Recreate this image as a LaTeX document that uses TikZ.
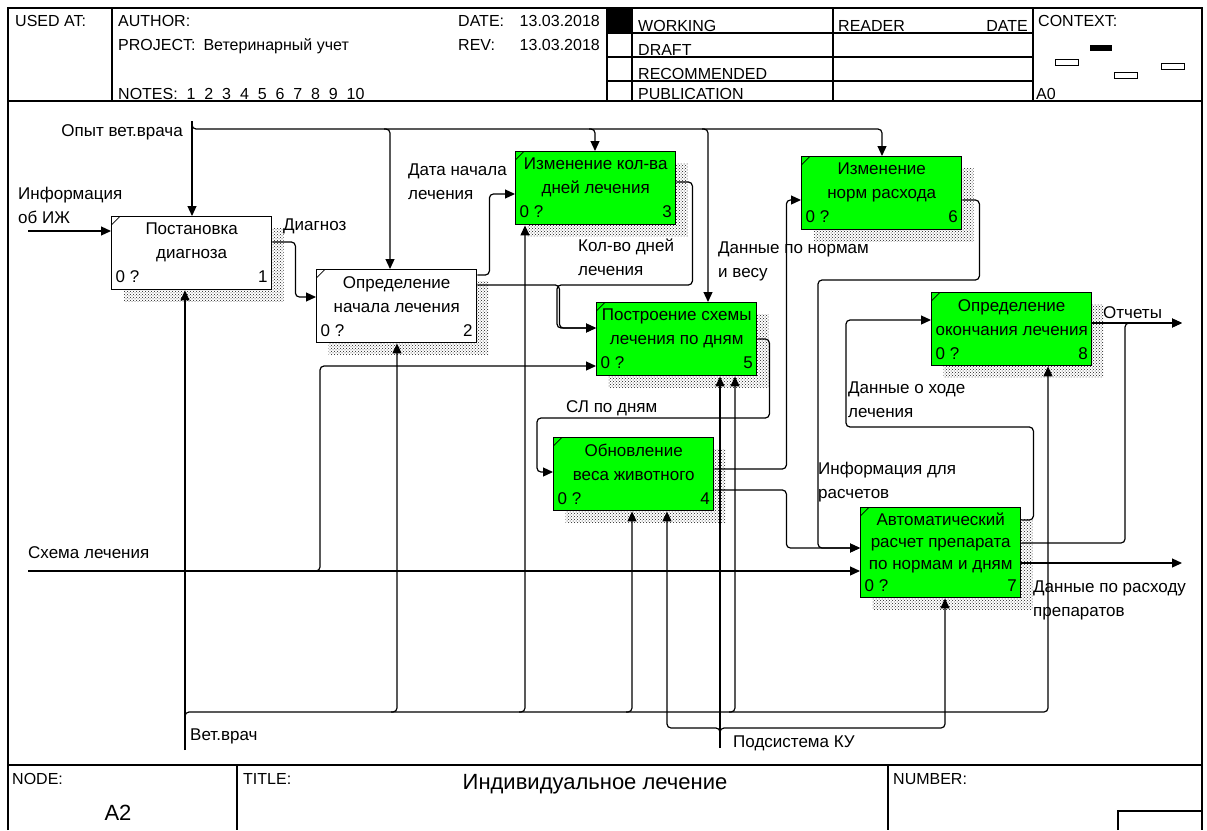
\documentclass[tikz,border=0pt]{standalone}
\usepackage{fontspec}
\setmainfont{Liberation Sans}
\usepackage{tikz}
\usetikzlibrary{positioning, arrows.meta, patterns}

\definecolor{idefgreen}{RGB}{0,255,0}
\newcommand{\boxid}[1]{\makebox[152pt]{0 ?\hfill #1}}

\begin{document}
\begin{tikzpicture}[
    x=1pt, y=-1pt,
    activity/.style={rectangle, draw, line width=1.4pt, fill=white, anchor=north west, minimum width=160pt, minimum height=73pt, inner sep=0pt, align=center, font=\fontsize{17}{24}\selectfont,
        preaction={draw=none, pattern=crosshatch dots, pattern color=black!90, transform canvas={shift={(12pt,-12pt)}}},
        path picture={\draw[line width=0.7pt] ([yshift=-8pt]path picture bounding box.north west) -- ([xshift=8pt]path picture bounding box.north west);}},
    done/.style={activity, fill=idefgreen},
    lbl/.style={anchor=north west, align=left, inner sep=0pt, font=\fontsize{17}{24}\selectfont},
    head/.style={anchor=base west, inner sep=0pt, font=\fontsize{16}{19}\selectfont},
    frame/.style={line width=1.3pt},
    arrow/.style={->, >={Triangle[length=10pt, width=9pt]}, line width=1.2pt, rounded corners=4pt}
]
\useasboundingbox (0,0) rectangle (1207,830);

% Frame
\draw[frame] (8,830) -- (8,8) -- (1202,8) -- (1202,830);
\draw[frame] (8,101) -- (1202,101);
\draw[frame] (8,765) -- (1202,765);
\foreach \x in {112,607,632,833,1033}
    \draw[frame] (\x,8) -- (\x,101);
\foreach \y in {33,57,81}
    \draw[frame] (607,\y) -- (1033,\y);
\fill (607,8) rectangle (632,33);
\draw[frame] (237,765) -- (237,830);
\draw[frame] (888,765) -- (888,830);
\draw[frame] (1118,830) -- (1118,811) -- (1202,811);

% Context
\fill (1090,45) rectangle (1112,51);
\draw[line width=1pt] (1055,59) rectangle (1078,65);
\draw[line width=1pt] (1114,72) rectangle (1137,78);
\draw[line width=1pt] (1161,63) rectangle (1184,69);

% Header
\node[head] (usedat) at (15,26) {USED AT:};
\node[head] (author) at (118,26) {AUTHOR:};
\node[head] (project) at (118,50) {PROJECT:\hspace{8pt}Ветеринарный учет};
\node[head] (notes) at (118,99) {NOTES:~~1~~2~~3~~4~~5~~6~~7~~8~~9~~10};
\node[head] (datel) at (458,26) {DATE:};
\node[head, anchor=base east] (dater) at (600,26) {13.03.2018};
\node[head] (revl) at (458,50) {REV:};
\node[head, anchor=base east] (revr) at (600,50) {13.03.2018};
\node[head] (working) at (638,31) {WORKING};
\node[head] (draft) at (638,55) {DRAFT};
\node[head] (recom) at (638,79) {RECOMMENDED};
\node[head] (publ) at (638,99) {PUBLICATION};
\node[head] (reader) at (838,31) {READER};
\node[head, anchor=base east] (rdate) at (1028,31) {DATE};
\node[head] (context) at (1038,26) {CONTEXT:};
\node[head] (azero) at (1036,99) {A0};

% Footer
\node[head] (nodel) at (12,784) {NODE:};
\node[font=\fontsize{22}{26}\selectfont] (nodenum) at (118,813) {A2};
\node[head] (titlel) at (243,784) {TITLE:};
\node[font=\fontsize{22}{26}\selectfont] (title) at (595,784) {Индивидуальное лечение};
\node[head] (numl) at (893,784) {NUMBER:};

% Activities
\node[activity] (b1) at (111,216) {Постановка\\диагноза\\\boxid{1}};
\node[activity] (b2) at (316,269) {Определение\\начала лечения\\\boxid{2}};
\node[done] (b3) at (515,151) {Изменение кол-ва\\дней лечения\\\boxid{3}};
\node[done] (b4) at (553,437) {Обновление\\веса животного\\\boxid{4}};
\node[done] (b5) at (596,302) {Построение схемы\\лечения по дням\\\boxid{5}};
\node[done] (b6) at (801,156) {Изменение\\норм расхода\\\boxid{6}};
\node[done, minimum height=90pt, font=\fontsize{17}{22}\selectfont] (b7) at (860,507) {Автоматический\\расчет препарата\\по нормам и дням\\\boxid{7}};
\node[done] (b8) at (931,292) {Определение\\окончания лечения\\\boxid{8}};

% Border ends
\coordinate (opyt) at (192,121);
\coordinate (opbus) at (0,129);
\coordinate (info) at (28,231);
\coordinate (shema) at (28,571);
\coordinate (vet) at (185,750);
\coordinate (vbus) at (0,712);
\coordinate (podsys) at (720,748);
\coordinate (pbus) at (0,728);
\coordinate (otch) at (1182,323);
\coordinate (rashod) at (1182,563);

% Controls
\draw[arrow] (opyt) -- ([xshift=81pt]b1.north west);
\draw[arrow] (opyt) |- ++(8,8) -| ([xshift=81pt]b6.north west);
\draw[arrow] ([xshift=68pt]b2.north west |- opbus) -| ([xshift=74pt]b2.north west);
\draw[arrow] ([xshift=74pt]b3.north west |- opbus) -| ([xshift=80pt]b3.north west);
\draw[arrow] ([xshift=106pt]b5.north west |- opbus) -| ([xshift=112pt]b5.north west);

% Inputs
\draw[arrow] (info) -- ([yshift=-15pt]b1.north west);
\draw[arrow] ([yshift=-26pt]b1.north east) -- ++(23,0) |- ([yshift=-28pt]b2.north west);
\draw[arrow] ([yshift=-6pt]b2.north east) -- ++(12,0) |- ([yshift=-43pt]b3.north west);
\draw[arrow] ([yshift=-16pt]b2.north east) -- ++(82,0) |- ([yshift=-26pt]b5.north west);
\draw[arrow] ([yshift=-31pt]b3.north east) -- ++(16,0) |- (557,285) |- ([yshift=-26pt]b5.north west);
\draw[arrow] (shema) -- ([yshift=-64pt]b7.north west);
\draw[arrow] (313,571) -| (320,366) -- ([yshift=-64pt]b5.north west);
\draw[arrow] ([yshift=-37pt]b5.north east) -- ++(12,0) |- (537,418) |- ([yshift=-35pt]b4.north west);
\draw[arrow] ([yshift=-32pt]b4.north east) -- ++(72,0) |- ([yshift=-44pt]b6.north west);
\draw[arrow] ([yshift=-53pt]b4.north east) -- ++(72,0) |- ([yshift=-41pt]b7.north west);
\draw[arrow] ([yshift=-44pt]b6.north east) -- ++(17,0) |- (818,280) |- ([yshift=-41pt]b7.north west);
\draw[arrow] ([yshift=-13pt]b7.north east) -- ++(12,0) |- (846,427) |- ([yshift=-28pt]b8.north west);

% Outputs
\draw[arrow] ([yshift=-31pt]b8.north east) -- (otch);
\draw[arrow] ([yshift=-36pt]b7.north east) -| (1125,323) -- (otch);
\draw[arrow] ([yshift=-56pt]b7.north east) -- (rashod);

% Mechanisms
\draw[arrow] (vet) -- ([xshift=74pt]b1.south west);
\draw[arrow] (185,718) |- ([xshift=117pt]b8.south west |- vbus) -- ([xshift=117pt]b8.south west);
\draw[arrow] ([xshift=75pt]b2.south west |- vbus) -| ([xshift=81pt]b2.south west);
\draw[arrow] ([xshift=4pt]b3.south west |- vbus) -| ([xshift=10pt]b3.south west);
\draw[arrow] ([xshift=73pt]b4.south west |- vbus) -| ([xshift=79pt]b4.south west);
\draw[arrow] ([xshift=133pt]b5.south west |- vbus) -| ([xshift=139pt]b5.south west);
\draw[arrow] (podsys) -- ([xshift=124pt]b5.south west);
\draw[arrow] ([yshift=12pt]podsys) |- ([xshift=114pt]b4.south west |- pbus) -- ([xshift=114pt]b4.south west);
\draw[arrow] ([yshift=12pt]podsys) |- ([xshift=85pt]b7.south west |- pbus) -- ([xshift=85pt]b7.south west);

% Labels
\node[lbl, anchor=north east] (lopyt) at (183,124) {Опыт вет.врача};
\node[lbl] (linfo) at (18,187) {Информация\\об ИЖ};
\node[lbl] (ldiag) at (283,219) {Диагноз};
\node[lbl] (ldata) at (408,164) {Дата начала\\лечения};
\node[lbl] (lkol) at (578,239) {Кол-во дней\\лечения};
\node[lbl] (lnorm) at (718,242) {Данные по нормам\\и весу};
\node[lbl] (lotch) at (1103,306) {Отчеты};
\node[lbl] (lhod) at (848,382) {Данные о ходе\\лечения};
\node[lbl] (lsl) at (566,400) {СЛ по дням};
\node[lbl] (linf) at (818,462) {Информация для\\расчетов};
\node[lbl] (lrash) at (1033,581) {Данные по расходу\\препаратов};
\node[lbl] (lshema) at (28,546) {Схема лечения};
\node[lbl] (lvet) at (190,729) {Вет.врач};
\node[lbl] (lpod) at (733,736) {Подсистема КУ};

\end{tikzpicture}
\end{document}
